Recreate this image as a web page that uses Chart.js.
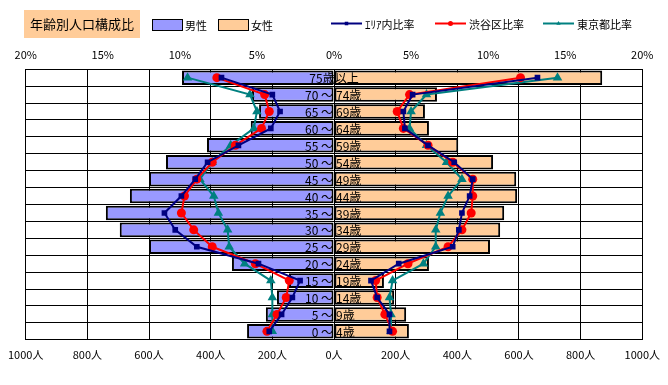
<!DOCTYPE html>
<html>
<head>
<meta charset="utf-8">
<script src="https://cdn.jsdelivr.net/npm/chart.js@4/dist/chart.umd.min.js"></script>
<style>
html,body{margin:0;padding:0;background:#fff;}
#wrap{width:668px;height:385px;position:relative;}
</style>
</head>
<body>
<div id="wrap"><canvas id="c" width="668" height="385"></canvas></div>
<script>
// ---- data ----
const categories = ['75歳以上','70～74歳','65～69歳','60～64歳','55～59歳','50～54歳','45～49歳','40～44歳','35～39歳','30～34歳','25～29歳','20～24歳','15～19歳','10～14歳','5～9歳','0～4歳'];
const malePeople   = [493,266,243,270,412,545,600,662,740,695,600,331,146,185,221,282];
const femalePeople = [870,334,295,308,403,516,591,594,552,539,506,308,162,195,234,243];
const areaMale     = [7.3,4.0,3.5,4.1,6.2,8.2,9.0,9.9,11.0,10.3,8.9,4.9,2.2,2.7,3.4,4.2];
const shibuyaMale  = [7.6,4.5,4.2,4.7,6.4,7.9,8.9,9.7,9.9,9.1,7.9,5.1,2.9,3.1,3.7,4.35];
const tokyoMale    = [9.5,5.45,5.0,5.2,6.7,7.9,8.7,7.8,7.5,6.9,6.8,5.8,4.1,4.0,4.0,4.0];
const areaFemale   = [13.2,5.1,4.5,4.6,6.1,7.8,9.0,8.8,8.3,8.1,7.7,4.2,2.4,2.8,3.6,3.6];
const shibuyaFemale= [12.1,4.9,4.1,4.5,6.1,7.7,9.0,9.0,8.9,8.3,7.4,4.8,2.7,2.8,3.3,3.8];
const tokyoFemale  = [14.5,6.0,5.0,4.9,6.0,7.3,8.3,7.4,6.9,6.6,6.6,5.8,3.8,3.6,3.7,3.7];
const peopleTicks  = [-1000,-800,-600,-400,-200,0,200,400,600,800,1000];
const pctTicks     = [-20,-15,-10,-5,0,5,10,15,20];
const seriesNames  = ['男性','女性','ｴﾘｱ内比率','渋谷区比率','東京都比率'];
const chartTitle   = '年齢別人口構成比';

const FONT = '"Noto Sans CJK JP", "Noto Sans", sans-serif';
const C_MALE = '#9999FF', C_FEMALE = '#FFCC99';
const C_AREA = '#000080', C_SHIB = '#FF0000', C_TOKYO = '#008080';

function lineDS(label, data, color, style, radius) {
  return {
    type: 'line', label: label, data: data, xAxisID: 'xp', yAxisID: 'y', indexAxis: 'y',
    borderColor: color, backgroundColor: color, borderWidth: 2, tension: 0,
    pointStyle: style, pointRadius: radius, pointBorderWidth: 0, pointHoverRadius: radius,
    order: 1, fill: false
  };
}
const neg = a => a.map(v => -v);

const datasets = [
  {type:'bar', label: seriesNames[0], data: neg(malePeople), xAxisID:'x', yAxisID:'y',
   backgroundColor: C_MALE, borderColor:'#000', borderWidth:2, borderSkipped:false,
   grouped:false, barPercentage:0.86, categoryPercentage:1, order:2},
  {type:'bar', label: seriesNames[1], data: femalePeople, xAxisID:'x', yAxisID:'y',
   backgroundColor: C_FEMALE, borderColor:'#000', borderWidth:2, borderSkipped:false,
   grouped:false, barPercentage:0.86, categoryPercentage:1, order:2},
  lineDS(seriesNames[2], neg(areaMale), C_AREA, 'rect', 4),
  lineDS(seriesNames[3], neg(shibuyaMale), C_SHIB, 'circle', 4.5),
  lineDS(seriesNames[4], neg(tokyoMale), C_TOKYO, 'triangle', 5.5),
  lineDS(seriesNames[2], areaFemale, C_AREA, 'rect', 4),
  lineDS(seriesNames[3], shibuyaFemale, C_SHIB, 'circle', 4.5),
  lineDS(seriesNames[4], tokyoFemale, C_TOKYO, 'triangle', 5.5)
];

const centerLabels = {
  id: 'centerLabels',
  afterDatasetsDraw(chart) {
    const ctx = chart.ctx, y = chart.scales.y, x = chart.scales.x;
    const cx = x.getPixelForValue(0);
    ctx.save();
    ctx.font = '12px ' + FONT;
    ctx.fillStyle = '#000';
    ctx.textBaseline = 'middle';
    categories.forEach((lab, i) => {
      const py = y.getPixelForValue(i) + 1;
      const k = lab.indexOf('～');
      if (k < 0) {
        ctx.textAlign = 'center';
        ctx.fillText(lab, cx, py);
      } else {
        ctx.textAlign = 'right';
        ctx.fillText(lab.slice(0, k) + ' ～', cx - 1, py);
        ctx.textAlign = 'left';
        ctx.fillText(lab.slice(k + 1), cx + 2, py);
      }
    });
    ctx.restore();
  }
};

const topLegend = {
  id: 'topLegend',
  afterDraw(chart) {
    const ctx = chart.ctx;
    ctx.save();
    // title box
    ctx.fillStyle = C_FEMALE;
    ctx.fillRect(24, 10, 116, 28);
    ctx.fillStyle = '#000';
    ctx.font = '13px ' + FONT;
    ctx.textAlign = 'center';
    ctx.textBaseline = 'middle';
    ctx.fillText(chartTitle, 82, 24);
    ctx.font = '11px ' + FONT;
    ctx.textAlign = 'left';
    // bar swatches
    const sw = [[152, C_MALE, seriesNames[0]], [218, C_FEMALE, seriesNames[1]]];
    sw.forEach(([x0, col, lab]) => {
      ctx.fillStyle = col;
      ctx.fillRect(x0, 19, 31, 12);
      ctx.strokeStyle = '#000'; ctx.lineWidth = 1;
      ctx.strokeRect(x0 + 0.5, 19.5, 30, 11);
      ctx.fillStyle = '#000';
      ctx.fillText(lab, x0 + 33, 26);
    });
    const ln = [[331, C_AREA, 'rect', seriesNames[2]], [435, C_SHIB, 'circle', seriesNames[3]], [543, C_TOKYO, 'triangle', seriesNames[4]]];
    ln.forEach(([x0, col, st, lab]) => {
      ctx.strokeStyle = col; ctx.lineWidth = 2;
      ctx.beginPath(); ctx.moveTo(x0, 23.5); ctx.lineTo(x0 + 31, 23.5); ctx.stroke();
      ctx.fillStyle = col;
      Chart.helpers.drawPoint(ctx, {pointStyle: st, radius: 2.5, borderWidth: 0}, x0 + 15.5, 23.5);
      ctx.fillStyle = '#000';
      ctx.fillText(lab, x0 + 34, 25);
    });
    ctx.restore();
  }
};

new Chart(document.getElementById('c'), {
  data: { labels: categories, datasets: datasets },
  options: {
    responsive: false,
    animation: false,
    indexAxis: 'y',
    layout: { padding: { top: 40, left: 6, right: 6, bottom: 16 } },
    plugins: { legend: { display: false }, tooltip: { enabled: false } },
    scales: {
      x: {
        type: 'linear', position: 'bottom', min: -1000, max: 1000,
        afterBuildTicks: s => { s.ticks = peopleTicks.map(v => ({value: v})); },
        ticks: { color: '#000', font: { family: FONT, size: 11 }, padding: 8,
                 callback: v => Math.abs(v) + '人', maxRotation: 0 },
        grid: { color: '#000', lineWidth: 1, drawTicks: false },
        border: { color: '#000', width: 1 }
      },
      xp: {
        type: 'linear', position: 'top', min: -20, max: 20,
        afterBuildTicks: s => { s.ticks = pctTicks.map(v => ({value: v})); },
        ticks: { color: '#000', font: { family: FONT, size: 11 }, padding: 8,
                 callback: v => Math.abs(v) + '%', maxRotation: 0 },
        grid: { drawOnChartArea: false, drawTicks: false },
        border: { color: '#000', width: 1 }
      },
      y: {
        type: 'category', position: 'left', offset: true,
        ticks: { display: false },
        grid: { color: '#000', lineWidth: 1, offset: true, drawTicks: false },
        border: { color: '#000', width: 1 }
      }
    }
  },
  plugins: [centerLabels, topLegend]
});
</script>
</body>
</html>
